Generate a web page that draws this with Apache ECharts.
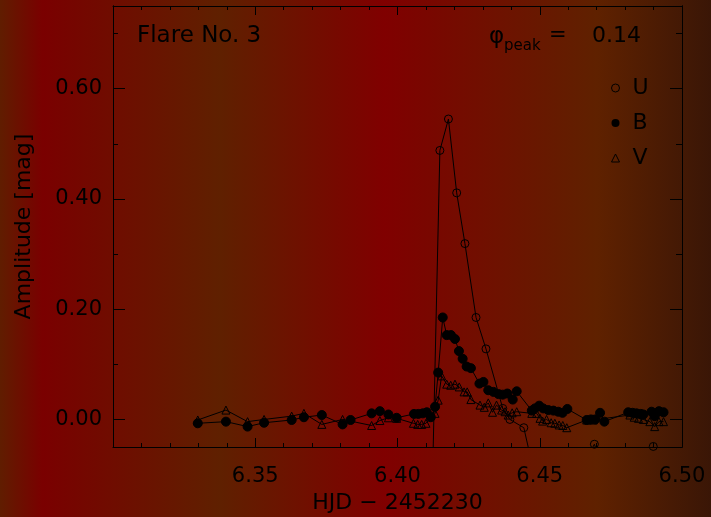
<!DOCTYPE html>
<html>
<head>
<meta charset="utf-8">
<script src="https://cdn.jsdelivr.net/npm/echarts@6/dist/echarts.min.js"></script>
<style>
    html, body { margin: 0; padding: 0; }
    #chart { width: 711px; height: 517px; }
</style>
</head>
<body>
<div id="chart"></div>
<script>
// HJD - 2452230 and flare amplitude [mag]
const uTime = [6.4119, 6.4149, 6.4179, 6.4208, 6.4237, 6.4276, 6.4311, 6.4370, 6.4395, 6.4444, 6.4525, 6.4692, 6.4800, 6.4899];
const uMag = [-0.2, 0.488, 0.545, 0.411, 0.319, 0.185, 0.128, 0.020, 0.000, -0.015, -0.2, -0.045, -0.2, -0.049];

const bTime = [
    6.3298, 6.3397, 6.3473, 6.3531, 6.3628, 6.3671, 6.3734, 6.3807, 6.3835, 6.3909,
    6.3938, 6.3968, 6.3997, 6.4058, 6.4073, 6.4089, 6.4103, 6.4117, 6.4132, 6.4143,
    6.4159, 6.4173, 6.4188, 6.4202, 6.4216, 6.4229, 6.4243, 6.4258, 6.4288, 6.4302,
    6.4319, 6.4337, 6.4355, 6.4370, 6.4386, 6.4405, 6.4419, 6.4472, 6.4483, 6.4498,
    6.4512, 6.4530, 6.4548, 6.4565, 6.4580, 6.4597, 6.4665, 6.4680, 6.4695, 6.4712,
    6.4727, 6.4811, 6.4826, 6.4840, 6.4855, 6.4864, 6.4893, 6.4904, 6.4919, 6.4935,
];
const bMag = [
    -0.007, -0.004, -0.013, -0.006, -0.001, 0.004, 0.008, -0.009, -0.001, 0.011,
    0.015, 0.009, 0.003, 0.010, 0.010, 0.011, 0.013, 0.004, 0.023, 0.085,
    0.185, 0.153, 0.153, 0.146, 0.124, 0.110, 0.096, 0.093, 0.065, 0.068,
    0.053, 0.050, 0.046, 0.045, 0.047, 0.036, 0.051, 0.016, 0.020, 0.025,
    0.020, 0.017, 0.016, 0.014, 0.012, 0.019, -0.001, 0.000, 0.000, 0.012,
    -0.004, 0.013, 0.012, 0.011, 0.010, 0.009, 0.014, 0.006, 0.015, 0.013,
];

const vTime = [
    6.3298, 6.3397, 6.3473, 6.3531, 6.3628, 6.3671, 6.3734, 6.3807, 6.3909, 6.3938,
    6.3968, 6.3997, 6.4056, 6.4071, 6.4085, 6.4100, 6.4132, 6.4143, 6.4155, 6.4173,
    6.4187, 6.4202, 6.4217, 6.4234, 6.4245, 6.4258, 6.4290, 6.4305, 6.4319, 6.4334,
    6.4348, 6.4366, 6.4378, 6.4389, 6.4403, 6.4419, 6.4472, 6.4489, 6.4501, 6.4510,
    6.4524, 6.4540, 6.4553, 6.4568, 6.4581, 6.4595, 6.4665, 6.4688, 6.4817, 6.4832,
    6.4847, 6.4864, 6.4887, 6.4904, 6.4919, 6.4935,
];
const vMag = [
    -0.001, 0.017, -0.004, 0.000, 0.006, 0.011, -0.009, 0.000, -0.011, -0.002,
    0.003, 0.002, -0.007, -0.009, -0.009, -0.007, 0.011, 0.035, 0.079, 0.064,
    0.062, 0.064, 0.059, 0.050, 0.050, 0.036, 0.026, 0.022, 0.030, 0.013,
    0.026, 0.017, 0.014, 0.008, 0.012, 0.014, 0.011, 0.011, 0.002, -0.003,
    0.000, -0.006, -0.007, -0.010, -0.011, -0.015, -0.001, -0.001, 0.008, 0.004,
    0.002, 0.000, -0.004, -0.013, -0.004, -0.004,
];

const yMajorTicks = [0, 0.2, 0.4, 0.6];
const yMinorTicks = [0.1, 0.3, 0.5, 0.7];

const ink = "#000";
const fontFamily = "DejaVu Sans";

function pairs(xs, ys) {
    return xs.map((x, i) => [x, ys[i]]);
}

function xAxisFrame(position, showLabel) {
    return {
        type: "value",
        position: position,
        min: 6.3,
        max: 6.5,
        interval: 0.05,
        axisLine: { onZero: false, lineStyle: { color: ink, width: 1 } },
        axisTick: { inside: true, length: 9, lineStyle: { color: ink } },
        minorTick: { show: true, splitNumber: 5, length: 4, lineStyle: { color: ink } },
        splitLine: { show: false },
        axisLabel: {
            show: showLabel,
            color: ink,
            fontFamily: fontFamily,
            fontSize: 21,
            margin: 19,
            formatter: (v) => (Math.abs(v - 6.3) < 1e-6 ? "" : v.toFixed(2)),
        },
    };
}

function yAxisFrame(position, ticks, tickLength, showLabel) {
    return {
        type: "value",
        position: position,
        min: -0.05,
        max: 0.75,
        axisLine: { onZero: false, lineStyle: { color: ink, width: 1 } },
        axisTick: { inside: true, length: tickLength, customValues: ticks, lineStyle: { color: ink } },
        splitLine: { show: false },
        axisLabel: {
            show: showLabel,
            customValues: ticks,
            color: ink,
            fontFamily: fontFamily,
            fontSize: 21,
            margin: 11,
            formatter: (v) => v.toFixed(2),
        },
    };
}

const chartDOM = document.getElementById("chart");
const flareChart = echarts.init(chartDOM, null, { renderer: "canvas" });

const bottomAxis = xAxisFrame("bottom", true);
bottomAxis.name = "HJD − 2452230";
bottomAxis.nameLocation = "middle";
bottomAxis.nameGap = 44;
bottomAxis.nameTextStyle = { color: ink, fontFamily: fontFamily, fontSize: 22 };

const leftAxis = yAxisFrame("left", yMajorTicks, 12, true);
leftAxis.name = "Amplitude [mag]";
leftAxis.nameLocation = "middle";
leftAxis.nameRotate = 90;
leftAxis.nameGap = 78;
leftAxis.nameTextStyle = { color: ink, fontFamily: fontFamily, fontSize: 22 };

const chartOption = {
    animation: false,
    backgroundColor: new echarts.graphic.LinearGradient(0, 0, 1, 0, [
        { offset: 0, color: "#601d00" },
        { offset: 0.06, color: "#7a0000" },
        { offset: 0.31, color: "#5f2000" },
        { offset: 0.54, color: "#800000" },
        { offset: 0.84, color: "#5f2100" },
        { offset: 1, color: "#3a1606" },
    ]),
    grid: { left: 113, right: 29, top: 6, bottom: 70, outerBoundsMode: "none" },
    xAxis: [bottomAxis, xAxisFrame("top", false)],
    yAxis: [
        leftAxis,
        yAxisFrame("left", yMinorTicks, 5, false),
        yAxisFrame("right", yMajorTicks, 12, false),
        yAxisFrame("right", yMinorTicks, 6, false),
    ],
    legend: {
        orient: "vertical",
        left: 606,
        top: 72,
        itemWidth: 8,
        itemHeight: 8,
        itemGap: 13,
        selectedMode: false,
        textStyle: { color: ink, fontFamily: fontFamily, fontSize: 22, padding: [0, 0, 0, 8] },
        data: [
            { name: "U", icon: "circle", itemStyle: { color: "rgba(0,0,0,0)", borderColor: ink, borderWidth: 1 } },
            { name: "B", icon: "circle", itemStyle: { color: ink, borderColor: ink } },
            { name: "V", icon: "triangle", itemStyle: { color: "rgba(0,0,0,0)", borderColor: ink, borderWidth: 1 } },
        ],
    },
    graphic: [
        {
            type: "text",
            x: 137,
            y: 36,
            style: { text: "Flare No. 3", fill: ink, font: "23px 'DejaVu Sans'", verticalAlign: "middle" },
        },
        {
            type: "text",
            x: 489,
            y: 37,
            style: { text: "φ", fill: ink, font: "23px 'DejaVu Sans'", verticalAlign: "middle" },
        },
        {
            type: "text",
            x: 504,
            y: 46,
            style: { text: "peak", fill: ink, font: "15px 'DejaVu Sans'", verticalAlign: "middle" },
        },
        {
            type: "text",
            x: 549,
            y: 36,
            style: { text: "=", fill: ink, font: "21px 'DejaVu Sans'", verticalAlign: "middle" },
        },
        {
            type: "text",
            x: 592,
            y: 36,
            style: { text: "0.14", fill: ink, font: "22px 'DejaVu Sans'", verticalAlign: "middle" },
        },
    ],
    series: [
        {
            name: "U",
            type: "line",
            data: pairs(uTime, uMag),
            symbol: "circle",
            symbolSize: 8,
            lineStyle: { color: ink, width: 1 },
            itemStyle: { color: "rgba(0,0,0,0)", borderColor: ink, borderWidth: 1 },
        },
        {
            name: "B",
            type: "line",
            data: pairs(bTime, bMag),
            symbol: "circle",
            symbolSize: 9,
            lineStyle: { color: ink, width: 1 },
            itemStyle: { color: ink, borderColor: ink },
        },
        {
            name: "V",
            type: "line",
            data: pairs(vTime, vMag),
            symbol: "triangle",
            symbolSize: 8,
            lineStyle: { color: ink, width: 1 },
            itemStyle: { color: "rgba(0,0,0,0)", borderColor: ink, borderWidth: 1 },
        },
    ],
};

flareChart.setOption(chartOption);
</script>
</body>
</html>
